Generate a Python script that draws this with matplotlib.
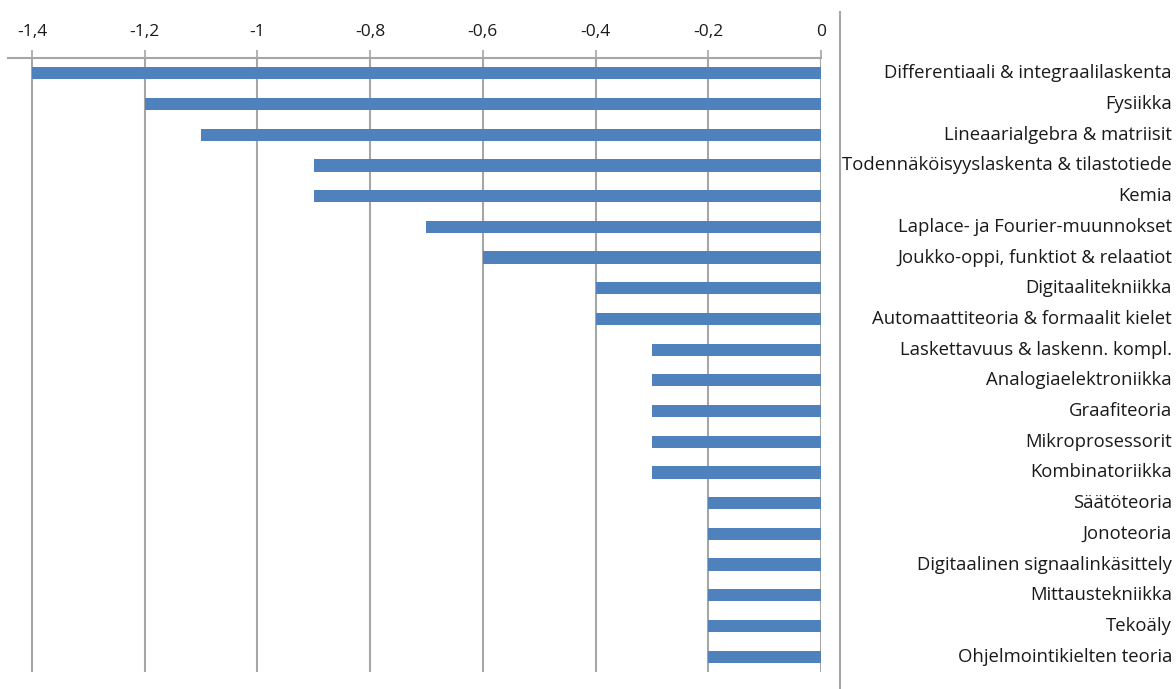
import matplotlib
matplotlib.use("Agg")
import matplotlib.pyplot as plt
from matplotlib.lines import Line2D
import matplotlib.transforms as mtransforms

categories = [
    "Differentiaali & integraalilaskenta",
    "Fysiikka",
    "Lineaarialgebra & matriisit",
    "Todennäköisyyslaskenta & tilastotiede",
    "Kemia",
    "Laplace- ja Fourier-muunnokset",
    "Joukko-oppi, funktiot & relaatiot",
    "Digitaalitekniikka",
    "Automaattiteoria & formaalit kielet",
    "Laskettavuus & laskenn. kompl.",
    "Analogiaelektroniikka",
    "Graafiteoria",
    "Mikroprosessorit",
    "Kombinatoriikka",
    "Säätöteoria",
    "Jonoteoria",
    "Digitaalinen signaalinkäsittely",
    "Mittaustekniikka",
    "Tekoäly",
    "Ohjelmointikielten teoria",
]
values = [-1.4, -1.2, -1.1, -0.9, -0.9, -0.7, -0.6, -0.4, -0.4,
          -0.3, -0.3, -0.3, -0.3, -0.3,
          -0.2, -0.2, -0.2, -0.2, -0.2, -0.2]
ticks = [-1.4, -1.2, -1.0, -0.8, -0.6, -0.4, -0.2, 0.0]
tick_labels = ["-1,4", "-1,2", "-1", "-0,8", "-0,6", "-0,4", "-0,2", "0"]

plt.rcParams["font.family"] = ["Open Sans", "DejaVu Sans"]

W, H = 1176, 689
fig = plt.figure(figsize=(W / 100, H / 100), dpi=100)
ax = fig.add_axes([8 / W, 1 - 672 / H, (821 - 8) / W, (672 - 58) / H])

bar_color = "#4F81BD"
grid_color = "#A6A6A6"
text_color = "#1a1a1a"

y = list(range(len(categories)))
ax.barh(y, values, height=0.4, color=bar_color, zorder=3)

ax.set_ylim(len(categories) - 0.5, -0.5)
ax.set_xlim(-1.4425, 0)
ax.set_xticks(ticks)
ax.set_xticklabels(tick_labels, fontsize=12.5, color=text_color)
ax.xaxis.tick_top()
ax.tick_params(axis="x", direction="out", length=6, width=1.2,
               color=grid_color, pad=7)
ax.set_yticks([])
ax.grid(axis="x", color=grid_color, linewidth=1.5, zorder=0)
for side in ("left", "right", "bottom"):
    ax.spines[side].set_visible(False)
ax.spines["top"].set_color(grid_color)
ax.spines["top"].set_linewidth(1.5)

# category labels, right-aligned near the figure edge
trans = mtransforms.blended_transform_factory(fig.transFigure, ax.transData)
for i, name in enumerate(categories):
    ax.text(1172 / W, i, name, transform=trans, ha="right", va="center",
            fontsize=13.3, color=text_color, clip_on=False)

# separator line between plot and labels
fig.add_artist(Line2D([840 / W, 840 / W], [0, 1 - 12 / H],
                      transform=fig.transFigure, color=grid_color, linewidth=1.5))

fig.savefig("out.png", dpi=100)
